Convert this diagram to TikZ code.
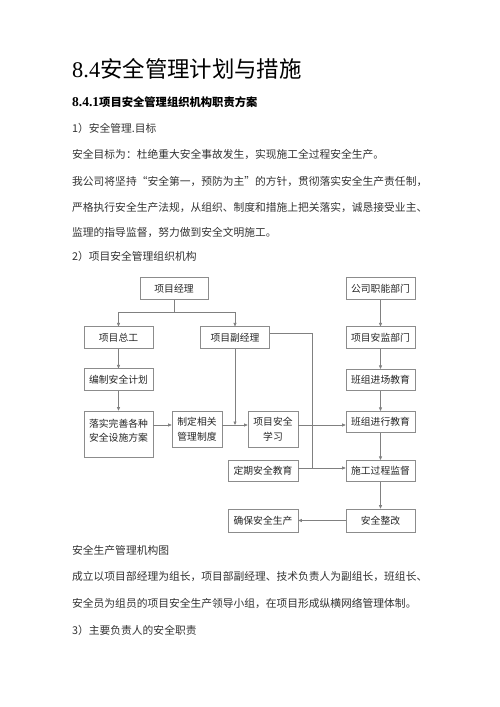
\documentclass[tikz,border=0pt]{standalone}
\usepackage{fontspec}
\setmainfont{Liberation Serif}
\newfontfamily\cjk{Noto Sans CJK SC}
\usetikzlibrary{positioning,arrows.meta,calc}

\begin{document}
\begin{tikzpicture}[x=1pt,y=-1pt,
  txt/.style={anchor=west,inner sep=0pt,text=black!80,font=\cjk\fontsize{10.76}{13}\selectfont},
  box/.style={draw=black!45,line width=0.6pt,fill=white,inner sep=1pt,align=center,
    minimum width=69pt,minimum height=21.5pt,text=black!85,font=\cjk\fontsize{9.8}{14.5}\selectfont},
  sbox/.style={box,minimum width=50pt,minimum height=36pt},
  ln/.style={draw=black!50,line width=0.6pt},
  arr/.style={ln,-{Triangle[length=3.5pt,width=3pt]}}]

\useasboundingbox[fill=white] (0,0) rectangle (500,707);

% page text above the chart
\node[anchor=west,inner sep=0pt] (title) at (72,69) {\fontsize{22.4}{26}\selectfont 8.4\cjk 安全管理计划与措施};
\node[anchor=west,inner sep=0pt] (sec) at (72,102.5) {\bfseries\fontsize{13.5}{14}\selectfont 8.4.1\cjk\fontsize{11.3}{14}\selectfont 项目安全管理组织机构职责方案};
\node[txt] (l1) at (72,128) {1）安全管理.目标};
\node[txt] (l2) at (72,154) {安全目标为：杜绝重大安全事故发生，实现施工全过程安全生产。};
\node[txt] (l3) at (72,181) {我公司将坚持“安全第一，预防为主”的方针，贯彻落实安全生产责任制，};
\node[txt] (l4) at (72,207) {严格执行安全生产法规，从组织、制度和措施上把关落实，诚恳接受业主、};
\node[txt] (l5) at (72,232) {监理的指导监督，努力做到安全文明施工。};
\node[txt] (l6) at (72,256) {2）项目安全管理组织机构};

% chart
\node[box,minimum width=68pt] (manager) at (174,288.5) {项目经理};
\node[box] (company) at (380.5,288.5) {公司职能部门};
\node[box] (chief) at (118.5,337.5) {项目总工};
\node[box] (deputy) at (235,337.5) {项目副经理};
\node[box] (safety) at (380.5,337.5) {项目安监部门};
\node[box] (plan) at (118.5,379.5) {编制安全计划};
\node[box] (entry) at (380.5,380) {班组进场教育};
\node[box,inner ysep=3pt] (measures) at (118.5,434) {\parbox[c][40pt][t]{64pt}{\centering\vspace*{5pt}落实完善各种\\安全设施方案}};
\node[sbox] (rules) at (197,429) {制定相关\\管理制度};
\node[sbox] (study) at (273,429) {项目安全\\学习};
\node[box] (teamedu) at (380.5,422) {班组进行教育};
\node[box,minimum width=70pt] (regular) at (263,471) {定期安全教育};
\node[box] (process) at (380.5,471) {施工过程监督};
\node[box,minimum width=70pt,minimum height=23pt] (ensure) at (263,520.5) {确保安全生产};
\node[box,minimum height=23pt] (rectify) at (380.5,520.5) {安全整改};

\coordinate (split) at (174,312);
\coordinate (row) at (0,425);
\coordinate (row2) at (0,468);
\coordinate (bend) at (312,0);

\draw[ln] (manager.south) -- (split);
\draw[arr] (split) -| (chief.north);
\draw[arr] (split) -| (deputy.north);
\draw[arr] (chief) -- (plan);
\draw[arr] (plan) -- (measures);
\draw[arr] (measures.east |- row) -- (rules.west |- row);
\draw[arr] (rules.east |- row) -- (study.west |- row);
\draw[arr] (deputy.south) -- (deputy.south |- row);
\draw[arr] (study.east |- row) -- (teamedu.west |- row);
\draw[ln] ([yshift=4pt]deputy.east) -| (bend |- row2);
\draw[arr] (regular.east |- row2) -- (process.west |- row2);
\draw[arr] (company) -- (safety);
\draw[arr] (safety) -- (entry);
\draw[arr] (entry) -- (teamedu);
\draw[arr] (teamedu) -- (process);
\draw[arr] (process) -- (rectify);
\draw[arr] (rectify) -- (ensure);

% page text below the chart
\node[txt] (cap) at (72,550) {安全生产管理机构图};
\node[txt] (l7) at (72,577) {成立以项目部经理为组长，项目部副经理、技术负责人为副组长，班组长、};
\node[txt] (l8) at (72,603) {安全员为组员的项目安全生产领导小组，在项目形成纵横网络管理体制。};
\node[txt] (l9) at (72,630) {3）主要负责人的安全职责};

\end{tikzpicture}
\end{document}
